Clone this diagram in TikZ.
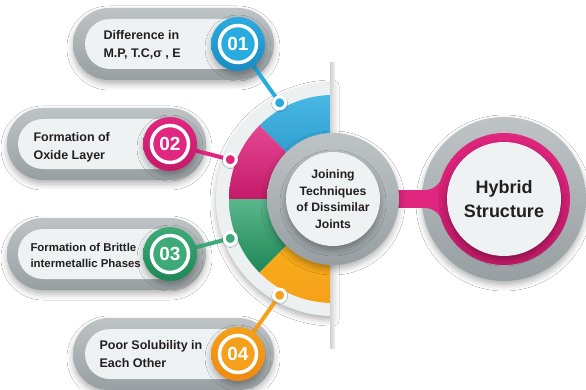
\documentclass[tikz,border=0pt]{standalone}
\usepackage{fontspec}
\setmainfont{Liberation Sans}
\usepackage{tikz}
\usetikzlibrary{shadows.blur}

\definecolor{cblue}{HTML}{29ABDF}
\definecolor{cbluedk}{HTML}{1B8CC2}
\definecolor{cpink}{HTML}{E0267E}
\definecolor{cpinkdk}{HTML}{C41A6A}
\definecolor{cgreen}{HTML}{3DAA78}
\definecolor{cgreendk}{HTML}{1E8755}
\definecolor{cyellow}{HTML}{FBBA1A}
\definecolor{corange}{HTML}{F5A01A}
\definecolor{corangedk}{HTML}{EE8A12}
\definecolor{pillgrey}{HTML}{BEC4C6}
\definecolor{pillgreydk}{HTML}{989FA2}
\definecolor{pilllight}{HTML}{EFF2F3}
\definecolor{bandgrey}{HTML}{EDF0F1}
\definecolor{txt}{HTML}{231F20}

\tikzset{
  softshadow/.style={blur shadow={shadow xshift=0pt,shadow yshift=-4pt,shadow blur radius=6pt,shadow opacity=30}},
  pillout/.style={top color=pillgrey,bottom color=pillgreydk,rounded corners=36pt,softshadow},
  pillin/.style={fill=pilllight,rounded corners=25pt},
  ringbg/.style={circle,minimum size=54pt,inner sep=0pt,softshadow},
  numbox/.style={circle,minimum size=37pt,inner sep=0pt,draw=white,line width=3.5pt,
    text=white,font=\fontsize{19}{19}\selectfont\bfseries},
  knob/.style={circle,minimum size=12pt,inner sep=0pt,draw=white,line width=3pt,
    blur shadow={shadow xshift=0pt,shadow yshift=-1pt,shadow blur radius=2pt,shadow opacity=25}},
  spoke/.style={line width=4pt},
  itemtext/.style={anchor=west,align=left,text=txt,font=\fontsize{12.5}{18}\selectfont\bfseries},
  disc/.style={circle,inner sep=0pt},
}

\begin{document}
\begin{tikzpicture}[x=1pt,y=1pt]
        \useasboundingbox (0,0) rectangle (586,389);
        \fill[white] (0,0) rectangle (586,389);

        % centres, dot places on the half ring, number places
        \coordinate (C) at (333,190);
        \coordinate (H) at (504,190);
        \coordinate (D1) at (279.7,286.2);
        \coordinate (D2) at (230.3,229.4);
        \coordinate (D3) at (230.3,150.6);
        \coordinate (D4) at (279.7,93.8);
        \coordinate (N1) at (238,345);
        \coordinate (N2) at (170,245);
        \coordinate (N3) at (170,135);
        \coordinate (N4) at (238,35);

        % half ring with four coloured quarters
        \fill[bandgrey,softshadow] (333,307) arc (90:270:117) -- cycle;
        \shade[top color=cblue!85!white,bottom color=cbluedk] (C) -- ++(90:104) arc (90:135:104) -- cycle;
        \shade[top color=cpink!85!white,bottom color=cpinkdk] (C) -- ++(135:104) arc (135:180:104) -- cycle;
        \shade[top color=cgreen!85!white,bottom color=cgreendk] (C) -- ++(180:104) arc (180:225:104) -- cycle;
        \shade[top color=cyellow,bottom color=corange] (C) -- ++(225:104) arc (225:270:104) -- cycle;
        \shade[left color=black!18,right color=black!6] (330,41) rectangle (335,326);

        % pills
        \shade[pillout] (73,309) rectangle (274,381);
        \fill[pillin] (85,320) rectangle (263,370);
        \shade[pillout] (7,209) rectangle (206,281);
        \fill[pillin] (18,220) rectangle (195,270);
        \shade[pillout] (7,99) rectangle (206,171);
        \fill[pillin] (18,110) rectangle (195,160);
        \shade[pillout] (73,-1) rectangle (274,71);
        \fill[pillin] (85,10) rectangle (263,60);

        \draw[spoke,cblue] (N1) -- (D1);
        \draw[spoke,cpink] (N2) -- (D2);
        \draw[spoke,cgreen] (N3) -- (D3);
        \draw[spoke,corange] (N4) -- (D4);

        \node[ringbg,top color=cblue,bottom color=cbluedk] (r1) at (N1) {};
        \node[ringbg,top color=cpink,bottom color=cpinkdk] (r2) at (N2) {};
        \node[ringbg,top color=cgreen,bottom color=cgreendk] (r3) at (N3) {};
        \node[ringbg,top color=corange,bottom color=corangedk] (r4) at (N4) {};
        \node[numbox,fill=cblue] (n1) at (N1) {01};
        \node[numbox,fill=cpink] (n2) at (N2) {02};
        \node[numbox,fill=cgreen] (n3) at (N3) {03};
        \node[numbox,fill=corange] (n4) at (N4) {04};

        \node[knob,fill=cblue] (d1) at (D1) {};
        \node[knob,fill=cpink] (d2) at (D2) {};
        \node[knob,fill=cgreen] (d3) at (D3) {};
        \node[knob,fill=corange] (d4) at (D4) {};

        \node[itemtext] (t1) at (100,344) {Difference in\\M.P, T.C,σ , E};
        \node[itemtext] (t2) at (30,242) {Formation of\\Oxide Layer};
        \node[itemtext,font=\fontsize{11.4}{16}\selectfont\bfseries] (t3) at (27,134) {Formation of Brittle\\intermetallic Phases};
        \node[itemtext] (t4) at (96,35) {Poor Solubility in\\Each Other};

        % hybrid circle, bar and centre circle
        \node[disc,minimum size=164pt,top color=pillgrey,bottom color=pillgreydk,softshadow] (h0) at (H) {};
        \draw[cpink,line width=18pt] (C) -- (H);
        \fill[cpink] (425,199) .. controls (434,199) and (439,205) .. (443,212)
          -- (443,168) .. controls (439,175) and (434,181) .. (425,181) -- cycle;
        \node[disc,minimum size=132pt,top color=pillgrey,bottom color=pillgreydk,softshadow] (c0) at (C) {};
        \node[disc,minimum size=94pt,fill=pilllight,softshadow,align=center,text=txt,
          font=\fontsize{12.2}{16.5}\selectfont\bfseries] (c1) at (C)
          {Joining\\Techniques\\of Dissimilar\\Joints};
        \node[disc,minimum size=132pt,top color=cpink,bottom color=cpinkdk] (h1) at (H) {};
        \node[disc,minimum size=114pt,fill=pilllight,softshadow,align=center,text=txt,
          font=\fontsize{18}{24}\selectfont\bfseries] (h2) at (H) {Hybrid\\Structure};
      \end{tikzpicture}
\end{document}
